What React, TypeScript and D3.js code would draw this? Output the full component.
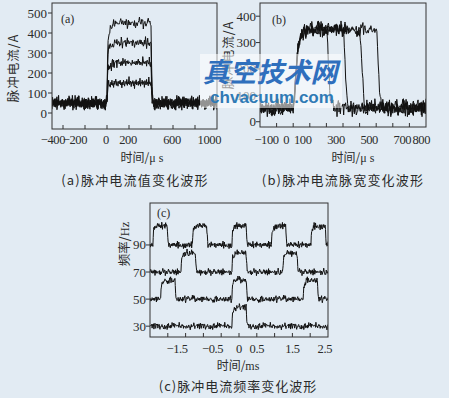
import React from 'react';
import * as d3 from 'd3';

const W = 449;
const H = 398;

// ---- (a) pulse current amplitude ----
const ampLevels = [150, 250, 350, 450]; // A
const ampBaseline = 50; // A
const ampOn = 0; // µs
const ampOff = 400; // µs
const ampXTicks = [-400, -200, 0, 200, 400, 600, 800];
const ampXLabels = [-400, -200, 0, 200, 600, 1000];
const ampYTicks = [0, 100, 200, 300, 400, 500];

// ---- (b) pulse width ----
const widthOffs = [200, 300, 400, 500]; // µs
const widthLevel = 350; // A
const widthBaseline = 52; // A
const widthOn = 0; // µs
const widthXTicks = [-100, 0, 100, 200, 300, 400, 500, 600, 700];
const widthXLabels = [-100, 0, 100, 300, 500, 700, 800];
const widthYTicks = [0, 100, 200, 300, 400];

// ---- (c) pulse frequency ----
const freqs = [90, 70, 50, 30]; // Hz, trace baseline sits at its own value
const freqPulseWidth = 0.4;
const freqPulseHeight = 14;
const freqXTicks = [-2, -1.5, -1, -0.5, 0, 0.5, 1, 1.5, 2];
const freqXLabels = [-1.5, -0.5, 0, 0.5, 1.5, 2.5];
const freqYTicks = [30, 50, 70, 90];

// edge responses (fraction of the step, one entry per sample)
const riseA = [0, 0.6, 0.82, 0.88, 0.9, 0.915, 0.93, 0.94, 0.95, 0.958, 0.965, 0.972, 0.978, 0.983, 0.988, 0.992, 0.995, 0.998, 1];
const fallA = [1, 0.5, 0.2, 0.08, 0.03, 0];
const riseB = [0, 0.06, 0.15, 0.27, 0.4, 0.52, 0.63, 0.72, 0.79, 0.84, 0.87, 0.895, 0.915, 0.93, 0.945, 0.955, 0.965, 0.972, 0.978, 0.984, 0.989, 0.993, 0.996, 0.998, 1];
const fallB = [1, 0.93, 0.8, 0.62, 0.42, 0.26, 0.14, 0.07, 0.03, 0.01, 0];
const riseC = [0, 0.4, 0.7, 0.78, 0.82, 0.86, 0.9, 0.93, 0.95, 0.97, 0.985, 1];
const fallC = [1, 0.7, 0.35, 0.12, 0.03, 0];

// recorded ripple on the scope traces (normalised)
const ripple = [0.2, -0.5, 0.7, -0.1, -0.8, 0.4, 0.1, -0.3, 0.9, -0.6, 0.3, -0.2, 1.6, -0.4, 0.0, 0.5, -0.9, 0.2, -0.1, 0.6, -0.7, 0.3, -1.4, 0.4, -0.2, 0.8, -0.5, 0.1, 0.3, -0.6, 0.5, -0.3, 1.2, -0.8, 0.2, -0.1, 0.7, -0.4, -0.2, 0.4, -1.1, 0.6, 0.0, -0.5, 0.9, -0.3, 0.2, -0.7, 1.5, -0.2, 0.3, -0.6, 0.1, 0.5, -0.9, 0.4, -0.1, 0.2, -1.3, 0.6, -0.4, 0.8, -0.2, 0.1, -0.5, 0.3, 1.1, -0.7, 0.2, -0.3, 0.6, -0.1, -0.8, 0.4, 0.0, -0.4, 0.9, -0.6, 0.2, 1.4, -0.3, 0.1, -0.5, 0.7, -1.2, 0.3, -0.2, 0.5, -0.6, 0.2, 0.8, -0.4, 0.1, -0.9, 0.6, -0.2, 0.3, -1.5, 0.4, -0.1, 0.7, -0.5, 0.2, 1.3, -0.3, 0.0, -0.7, 0.5, -0.2, 0.9, -0.4, 0.1, -1.0, 0.6, -0.3, 0.2, 1.0, -0.6, 0.4, -0.1, -0.8, 0.3, 0.5, -0.2, 0.7, -0.5, 0.1, -1.2];

type Pulse = { on: number; off: number };

function trace(
  t0: number, t1: number, step: number, pulses: Pulse[],
  base: number, level: number, rise: number[], fall: number[],
  noise: number, topNoise: number, offset: number, stride: number
): [number, number][] {
  const n = Math.round((t1 - t0) / step);
  const pts: [number, number][] = [];
  for (let i = 0; i <= n; i++) {
    const t = t0 + i * step;
    let f = 0;
    for (const p of pulses) {
      if (t >= p.on && t < p.off) {
        const k = Math.round((t - p.on) / step);
        f = rise[Math.min(k, rise.length - 1)];
      } else if (t >= p.off && t < p.off + fall.length * step) {
        const kOn = Math.round((p.off - p.on) / step);
        const fOff = rise[Math.min(kOn, rise.length - 1)];
        const k = Math.round((t - p.off) / step);
        f = fOff * fall[Math.min(k, fall.length - 1)];
      }
    }
    const r = ripple[(i * stride + offset) % ripple.length];
    const v = base + (level - base) * f + r * (f > 0.5 ? topNoise : noise);
    pts.push([t, v]);
  }
  return pts;
}

const SERIF = '"Liberation Serif", "DejaVu Serif", serif';
const CJK = '"Noto Sans CJK SC", "Noto Sans", sans-serif';
const INK = '#2b2b2b';

type Scale = d3.ScaleLinear<number, number>;

function Frame({ x, y }: { x: Scale; y: Scale }) {
  const [x0, x1] = x.range();
  const [y1, y0] = y.range();
  return <rect x={x0} y={y0} width={x1 - x0} height={y1 - y0} fill="none" stroke="#333" strokeWidth={1} />;
}

function Axes({ x, y, xTicks, xLabels, yTicks, labelY, yLabelX, labelShift, fmt }: {
  x: Scale; y: Scale; xTicks: number[]; xLabels: number[]; yTicks: number[];
  labelY: number; yLabelX: number; labelShift: number; fmt: (v: number) => string;
}) {
  const [x0, x1] = x.range();
  const [yb] = y.range();
  const xMax = x.domain()[1];
  return (
    <g>
      {xTicks.map((t) => (
        <line key={'xt' + t} x1={x(t)} x2={x(t)} y1={yb} y2={yb - 4} stroke="#333" strokeWidth={1} />
      ))}
      {yTicks.map((t) => (
        <line key={'yt' + t} x1={x0 - 4} x2={x0} y1={y(t)} y2={y(t)} stroke="#333" strokeWidth={1} />
      ))}
      {xLabels.map((t) => {
        let anchor: 'end' | 'middle' = 'middle';
        let px = x(t) + labelShift;
        if (t < 0) { anchor = 'end'; px = x(t) + 2; }
        else if (t === xMax) { anchor = 'end'; px = x1 + 4; }
        return (
          <text key={'xl' + t} x={px} y={labelY} textAnchor={anchor}
            fontFamily={SERIF} fontSize={12.5} letterSpacing={-0.4} fill={INK}>
            {fmt(t)}
          </text>
        );
      })}
      {yTicks.map((t) => (
        <text key={'yl' + t} x={yLabelX} y={y(t) + 4.5} textAnchor="end"
          fontFamily={SERIF} fontSize={13} fill={INK}>
          {fmt(t)}
        </text>
      ))}
    </g>
  );
}

const minus = (v: number) => (v < 0 ? '\u2212' + Math.abs(v) : String(v));

export default function App() {
  // panel (a)
  const xA = d3.scaleLinear().domain([-500, 1000]).range([52, 217]);
  const yA = d3.scaleLinear().domain([-80, 550]).range([129, 3]);
  const lineA = d3.line<[number, number]>().x((d) => xA(d[0])).y((d) => yA(d[1]));
  const tracesA = ampLevels.map((lv, j) =>
    trace(-500, 1000, 5, [{ on: ampOn, off: ampOff }], ampBaseline, lv, riseA, fallA, 24, 20, j * 29, 2 * j + 1)
  );

  // panel (b)
  const xB = d3.scaleLinear().domain([-200, 800]).range([260, 426]);
  const yB = d3.scaleLinear().domain([-20, 450]).range([127, 3]);
  const lineB = d3.line<[number, number]>().x((d) => xB(d[0])).y((d) => yB(d[1]));
  const tracesB = widthOffs.map((off, j) =>
    trace(-200, 800, 4, [{ on: widthOn, off }], widthBaseline, widthLevel, riseB, fallB, 22, 20, j * 37 + 5, 2 * j + 3)
  );

  // panel (c)
  const xC = d3.scaleLinear().domain([-2.5, 2.5]).range([150, 328]);
  const yC = d3.scaleLinear().domain([22, 121]).range([337, 203]);
  const lineC = d3.line<[number, number]>().x((d) => xC(d[0])).y((d) => yC(d[1]));
  const tracesC = freqs.map((f, j) => {
    const period = 100 / f;
    const pulses: Pulse[] = [];
    for (let k = -5; k <= 5; k++) {
      const on = k * period - freqPulseWidth / 2;
      pulses.push({ on, off: on + freqPulseWidth });
    }
    return trace(-2.5, 2.5, 0.01, pulses, f, f + freqPulseHeight, riseC, fallC, 1.8, 1.9, j * 41 + 11, 2 * j + 5);
  });

  return (
    <svg width={W} height={H} viewBox={`0 0 ${W} ${H}`}
      style={{ position: 'absolute', left: 0, top: 0, background: '#e2ebf3' }}>
      <defs>
        <clipPath id="clipA"><rect x={52} y={3} width={165} height={126} /></clipPath>
        <clipPath id="clipB"><rect x={260} y={3} width={166} height={124} /></clipPath>
        <clipPath id="clipC"><rect x={150} y={203} width={178} height={134} /></clipPath>
      </defs>
      <rect x={0} y={0} width={W} height={H} fill="#e2ebf3" />

      {/* (a) */}
      <g clipPath="url(#clipA)">
        {tracesA.map((d, i) => (
          <path key={i} d={lineA(d) || ''} fill="none" stroke="#111" strokeWidth={1} />
        ))}
      </g>
      <Frame x={xA} y={yA} />
      <Axes x={xA} y={yA} xTicks={ampXTicks} xLabels={ampXLabels} yTicks={ampYTicks}
        labelY={144} yLabelX={47} labelShift={-1} fmt={minus} />
      <text x={61} y={23} fontFamily={SERIF} fontSize={12} fill={INK}>(a)</text>
      <text transform="translate(18,68) rotate(-90)" textAnchor="middle" fontFamily={CJK}
        fontSize={12.5} letterSpacing={1} fill={INK}>脉冲电流/A</text>
      <text x={142} y={162} textAnchor="middle" fontFamily={CJK} fontSize={12} fill={INK}>
        时间/<tspan fontFamily={SERIF}>μ s</tspan>
      </text>
      <text x={135} y={185} textAnchor="middle" fontFamily={CJK} fontSize={13}
        letterSpacing={1.2} fill={INK}>(a)脉冲电流值变化波形</text>

      {/* (b) */}
      <g clipPath="url(#clipB)">
        {tracesB.map((d, i) => (
          <path key={i} d={lineB(d) || ''} fill="none" stroke="#111" strokeWidth={1} />
        ))}
      </g>
      <Frame x={xB} y={yB} />
      <Axes x={xB} y={yB} xTicks={widthXTicks} xLabels={widthXLabels} yTicks={widthYTicks}
        labelY={144} yLabelX={256} labelShift={-7} fmt={minus} />
      <text x={272} y={24} fontFamily={SERIF} fontSize={12} fill={INK}>(b)</text>
      <text transform="translate(233,55) rotate(-90)" textAnchor="middle" fontFamily={CJK}
        fontSize={12.5} letterSpacing={1} fill={INK}>脉冲电流/A</text>
      <text x={353} y={162} textAnchor="middle" fontFamily={CJK} fontSize={12} fill={INK}>
        时间/<tspan fontFamily={SERIF}>μ s</tspan>
      </text>
      <text x={343} y={185} textAnchor="middle" fontFamily={CJK} fontSize={13}
        letterSpacing={1.2} fill={INK}>(b)脉冲电流脉宽变化波形</text>

      {/* (c) */}
      <g clipPath="url(#clipC)">
        {tracesC.map((d, i) => (
          <path key={i} d={lineC(d) || ''} fill="none" stroke="#111" strokeWidth={1} />
        ))}
      </g>
      <Frame x={xC} y={yC} />
      <Axes x={xC} y={yC} xTicks={freqXTicks} xLabels={freqXLabels} yTicks={freqYTicks}
        labelY={353} yLabelX={146} labelShift={0} fmt={minus} />
      <text x={157} y={217} fontFamily={SERIF} fontSize={12} fill={INK}>(c)</text>
      <text transform="translate(129,244) rotate(-90)" textAnchor="middle" fontFamily={CJK}
        fontSize={12.5} fill={INK}>频率/<tspan fontFamily={SERIF}>Hz</tspan></text>
      <text x={238} y={370} textAnchor="middle" fontFamily={CJK} fontSize={12} fill={INK}>
        时间/<tspan fontFamily={SERIF}>ms</tspan>
      </text>
      <text x={238} y={391} textAnchor="middle" fontFamily={CJK} fontSize={13}
        letterSpacing={1} fill={INK}>(c)脉冲电流频率变化波形</text>

      {/* site mark */}
      <rect x={200} y={54} width={142} height={54} fill="#ffffff" opacity={0.55} />
      <text x={270} y={82} textAnchor="middle" fontFamily={CJK} fontWeight={700}
        fontSize={27} fill="#2f6fbd" fontStyle="italic">真空技术网</text>
      <text x={272} y={103} textAnchor="middle" fontFamily='"Liberation Sans", Arial, sans-serif'
        fontWeight={700} fontSize={17} fill="#2f7ab5">chvacuum.com</text>
    </svg>
  );
}
